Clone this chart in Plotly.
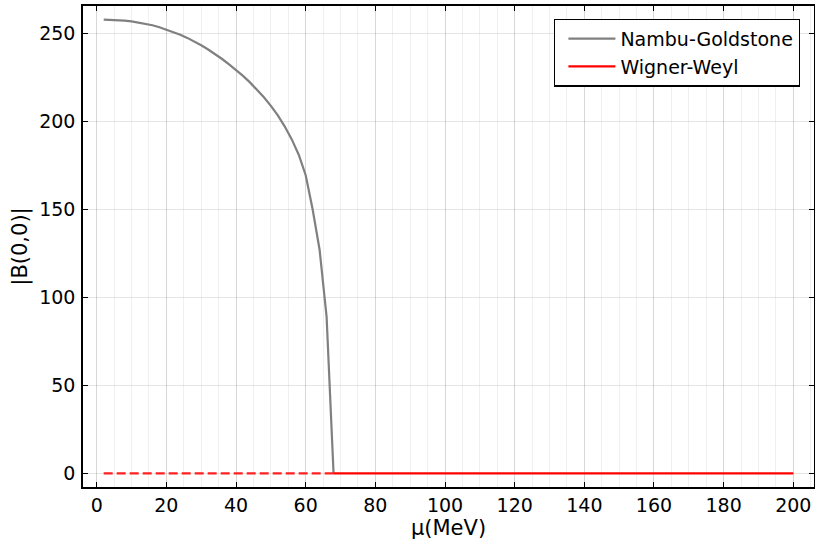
import plotly.graph_objects as go

# Nambu-Goldstone solution
mu_ng = [2, 4, 6, 8, 10, 12, 14, 16, 18, 20, 22, 24, 26, 28, 30, 32, 34, 36, 38, 40,
         42, 44, 46, 48, 50, 52, 54, 56, 58, 60, 62, 64, 66, 68]
b_ng = [258.0, 257.9, 257.7, 257.4, 257.0, 256.4, 255.7, 254.8, 253.7, 252.4,
        251.0, 249.4, 247.6, 245.6, 243.4, 241.0, 238.4, 235.6, 232.5, 229.5,
        226.0, 222.3, 218.3, 213.8, 209.0, 203.5, 197.2, 189.9, 181.2, 169.5,
        150.0, 127.0, 89.0, 0.0]

# Wigner-Weyl solution (metastable part dashed, stable part solid)
mu_ww_dash = [2, 68]
b_ww_dash = [0.0, 0.0]
mu_ww = [68, 200]
b_ww = [0.0, 0.0]

x_ticks = [0, 20, 40, 60, 80, 100, 120, 140, 160, 180, 200]
y_ticks = [0, 50, 100, 150, 200, 250]

FONT = "DejaVu Sans"

fig = go.Figure()
fig.add_trace(go.Scatter(x=mu_ng, y=b_ng, mode="lines", name="Nambu-Goldstone",
                         line=dict(color="#808080", width=2.2)))
fig.add_trace(go.Scatter(x=mu_ww_dash, y=b_ww_dash, mode="lines", showlegend=False,
                         line=dict(color="#ff2020", width=2.2, dash="9px,4px")))
fig.add_trace(go.Scatter(x=mu_ww, y=b_ww, mode="lines", name="Wigner-Weyl",
                         line=dict(color="#ff0000", width=2.2)))

axis_common = dict(
    showline=True, linecolor="black", linewidth=1.5, mirror="allticks",
    ticks="inside", ticklen=5, tickwidth=1, tickcolor="black",
    showgrid=True, gridcolor="rgba(0,0,0,0.1)", gridwidth=1,
    zeroline=False, automargin=False,
    tickfont=dict(family=FONT, size=19, color="black"),
)

fig.update_layout(
    width=815, height=540,
    margin=dict(l=83, r=1, t=6, b=53),
    paper_bgcolor="white", plot_bgcolor="white",
    font=dict(family=FONT, color="black"),
    xaxis=dict(range=[-3.94, 205.94], tickvals=x_ticks,
               title=dict(text="μ(MeV)", font=dict(family=FONT, size=21), standoff=4),
               minor=dict(dtick=5, tick0=0, showgrid=True, gridcolor="rgba(0,0,0,0.06)", ticks=""),
               **axis_common),
    yaxis=dict(range=[-7.74, 265.74], tickvals=y_ticks, ticklabelstandoff=2,
               title=dict(text="|B(0,0)|", font=dict(family=FONT, size=21), standoff=6),
               **axis_common),
    legend=dict(x=0.981, y=0.974, xanchor="right", yanchor="top",
                bgcolor="white", bordercolor="black", borderwidth=1.3,
                font=dict(family=FONT, size=19), tracegroupgap=0,
                itemwidth=47, indentation=8),
)

fig.write_html("out.html", config={"displayModeBar": False},
               post_script="document.body.style.margin='0';document.body.style.overflow='hidden';")
